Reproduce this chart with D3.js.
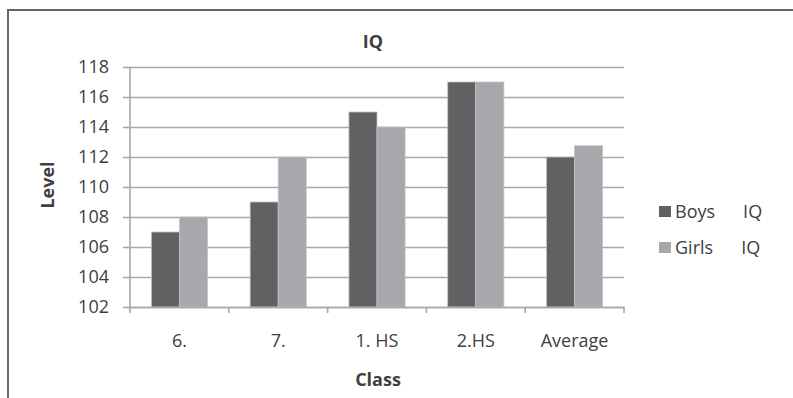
<!DOCTYPE html>
<html>
<head>
<meta charset="utf-8">
<script src="https://cdn.jsdelivr.net/npm/d3@7"></script>
<style>
    body { margin: 0; background: #fff; }
    svg text { font-family: "Open Sans", sans-serif; fill: #404040; }
</style>
</head>
<body>
<div id="chart"></div>
<script>
// data
var classes = ["6.", "7.", "1. HS", "2.HS", "Average"];
var seriesNames = ["Boys      IQ", "Girls      IQ"];
var boysIQ = [107, 109, 115, 117, 112];
var girlsIQ = [108, 112, 114, 117, 112.75];
var yTicks = [102, 104, 106, 108, 110, 112, 114, 116, 118];
var colors = ["#616163", "#a7a8ab"];

var W = 793, H = 398;
var margin = {top: 67, right: 169, bottom: 91, left: 130};
var width = W - margin.left - margin.right;
var height = H - margin.top - margin.bottom;

var svg = d3.select("#chart").append("svg")
        .attr("width", W)
        .attr("height", H);

// frame lines (left and top only)
svg.append("path")
        .attr("d", "M8,398V10H793")
        .attr("fill", "none")
        .attr("stroke", "#666")
        .attr("stroke-width", 2);

var g = svg.append("g")
        .attr("transform", "translate(" + margin.left + "," + margin.top + ")");

var x0 = d3.scaleBand().domain(classes).range([0, width]).padding(0);
var x1 = d3.scaleBand().domain(seriesNames).range([0, x0.bandwidth()]).paddingInner(0).paddingOuter(0.76);
var y = d3.scaleLinear().domain([102, 118]).range([height, 0]);

// gridlines
g.append("g")
        .attr("class", "grid")
        .call(d3.axisLeft(y).tickValues(yTicks).tickSize(-width).tickFormat(""))
        .call(function (s) {
            s.select(".domain").remove();
            s.selectAll("line").attr("stroke", "#a8a8a8").attr("stroke-width", 1.6);
        });

// y axis with labels
g.append("g")
        .attr("class", "y-axis")
        .call(d3.axisLeft(y).tickValues(yTicks).tickSize(7).tickPadding(14))
        .call(function (s) {
            s.select(".domain").attr("d", "M0,0V" + (height + 6)).attr("stroke", "#a8a8a8").attr("stroke-width", 1.6);
            s.selectAll("line").attr("stroke", "#a8a8a8").attr("stroke-width", 1.6);
            s.selectAll("text").style("font-size", "18px").attr("fill", "#404040");
        });

// bars
var data = classes.map(function (c, i) {
    return {cls: c, vals: [boysIQ[i], girlsIQ[i]]};
});

g.selectAll(".group")
        .data(data)
        .enter().append("g")
        .attr("transform", function (d) { return "translate(" + x0(d.cls) + ",0)"; })
        .selectAll("rect")
        .data(function (d) { return d.vals.map(function (v, j) { return {name: seriesNames[j], v: v, j: j}; }); })
        .enter().append("rect")
        .attr("x", function (d) { return x1(d.name); })
        .attr("y", function (d) { return y(d.v); })
        .attr("width", x1.bandwidth())
        .attr("height", function (d) { return height - y(d.v); })
        .attr("fill", function (d) { return colors[d.j]; })
        .attr("stroke", "#c4c4c6")
        .attr("stroke-width", 0.8);

// x axis
g.append("g")
        .attr("class", "x-axis")
        .attr("transform", "translate(0," + height + ")")
        .call(d3.axisBottom(x0).tickSize(0).tickPadding(27))
        .call(function (s) {
            s.select(".domain").attr("stroke", "#a8a8a8").attr("stroke-width", 1.6);
            s.selectAll("text").style("font-size", "18px").attr("fill", "#404040");
        });

// x axis tick marks at category boundaries
g.append("g")
        .selectAll("line")
        .data(classes.slice(1).concat(["end"]))
        .enter().append("line")
        .attr("x1", function (d) { return d === "end" ? width : x0(d); })
        .attr("x2", function (d) { return d === "end" ? width : x0(d); })
        .attr("y1", height)
        .attr("y2", height + 6)
        .attr("stroke", "#a8a8a8")
        .attr("stroke-width", 1.6);

// title
svg.append("text")
        .attr("x", 373)
        .attr("y", 48)
        .attr("text-anchor", "middle")
        .style("font-size", "18px")
        .style("font-weight", "bold")
        .attr("fill", "#222")
        .text("IQ");

// axis titles
svg.append("text")
        .attr("x", 378)
        .attr("y", 386)
        .attr("text-anchor", "middle")
        .style("font-size", "18px")
        .style("font-weight", "bold")
        .attr("fill", "#333")
        .text("Class");

svg.append("text")
        .attr("transform", "translate(54,185) rotate(-90)")
        .attr("text-anchor", "middle")
        .style("font-size", "18px")
        .style("font-weight", "bold")
        .attr("fill", "#333")
        .text("Level");

// legend
var legend = svg.append("g")
        .attr("transform", "translate(659,206)");

var items = legend.selectAll(".item")
        .data(seriesNames)
        .enter().append("g")
        .attr("transform", function (d, i) { return "translate(0," + (i * 36) + ")"; });

items.append("rect")
        .attr("width", 12)
        .attr("height", 11)
        .attr("fill", function (d, i) { return colors[i]; });

items.append("text")
        .attr("x", 16)
        .attr("y", 12)
        .style("font-size", "18px")
        .style("white-space", "pre")
        .attr("fill", "#404040")
        .text(function (d) { return d; });
</script>
</body>
</html>
